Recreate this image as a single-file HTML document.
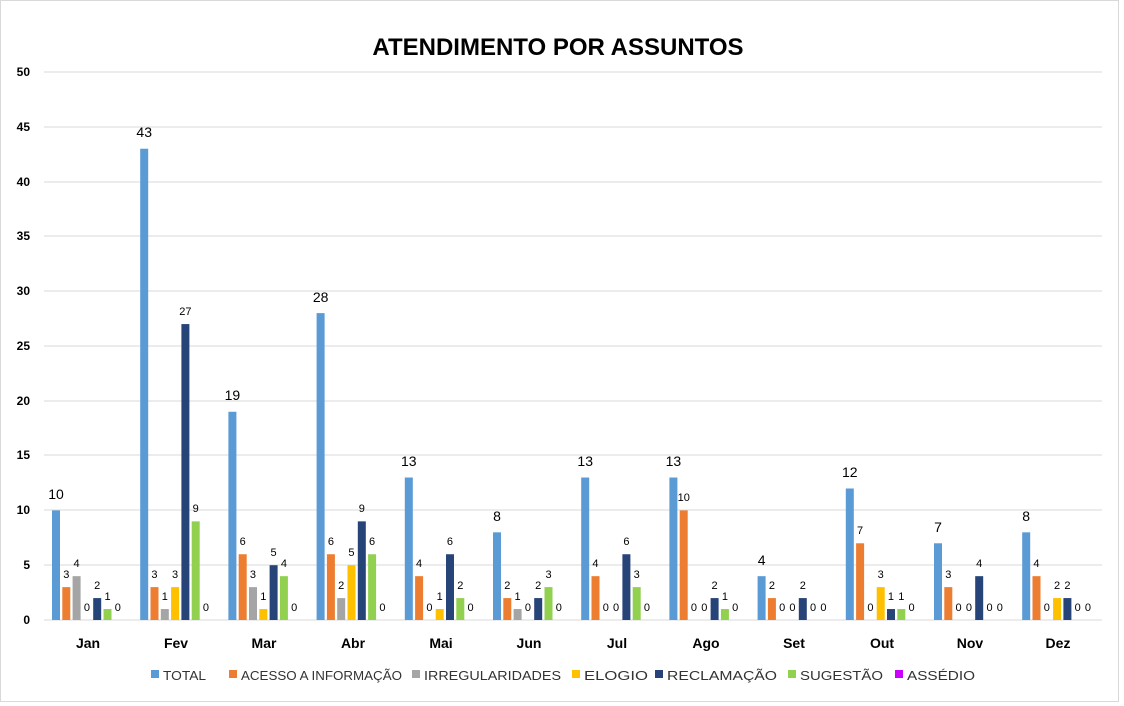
<!DOCTYPE html>
<html><head><meta charset="utf-8"><style>
body{margin:0;background:#fff}
svg{font-family:"Liberation Sans",sans-serif;display:block}
.s0{fill:#5B9BD5}.s1{fill:#ED7D31}.s2{fill:#A5A5A5}.s3{fill:#FFC000}.s4{fill:#264478}.s5{fill:#92D050}.s6{fill:#CC00FF}
.t{font-size:14px;text-anchor:middle;fill:#000}
.l{font-size:11px;text-anchor:middle;fill:#000}
.ax{font-size:12px;font-weight:bold;fill:#000}
.cat{font-size:14px;font-weight:bold;text-anchor:middle}
.lg{font-size:13px;fill:#333}
</style></head><body>
<svg width="1124" height="706" viewBox="0 0 1124 706">
<rect x="0.5" y="0.5" width="1118" height="701" fill="#fff" stroke="#d9d9d9"/>
<text x="558" y="55" font-size="24" font-weight="bold" text-anchor="middle">ATENDIMENTO POR ASSUNTOS</text>
<g stroke="#d9d9d9" stroke-width="1">
<line x1="44" x2="1102" y1="72" y2="72"/><line x1="44" x2="1102" y1="127" y2="127"/><line x1="44" x2="1102" y1="182" y2="182"/><line x1="44" x2="1102" y1="236" y2="236"/><line x1="44" x2="1102" y1="291" y2="291"/><line x1="44" x2="1102" y1="346" y2="346"/><line x1="44" x2="1102" y1="401" y2="401"/><line x1="44" x2="1102" y1="455" y2="455"/><line x1="44" x2="1102" y1="510" y2="510"/><line x1="44" x2="1102" y1="565" y2="565"/><line x1="44" x2="1102" y1="620" y2="620"/>
</g>
<g class="ax" text-anchor="end">
<text x="30" y="76">50</text><text x="30" y="131">45</text><text x="30" y="186">40</text><text x="30" y="240">35</text><text x="30" y="295">30</text><text x="30" y="350">25</text><text x="30" y="405">20</text><text x="30" y="459">15</text><text x="30" y="514">10</text><text x="30" y="569">5</text><text x="30" y="624">0</text>
</g>

<g transform="translate(52,0)">
<rect class="s0" x="0" y="510.4" width="8" height="109.6"/><text class="t" x="4" y="499">10</text>
<rect class="s1" x="10.3" y="587.12" width="8" height="32.88"/><text class="l" x="14.3" y="578">3</text>
<rect class="s2" x="20.6" y="576.16" width="8" height="43.84"/><text class="l" x="24.6" y="567">4</text>
<text class="l" x="34.9" y="611">0</text>
<rect class="s4" x="41.2" y="598.08" width="8" height="21.92"/><text class="l" x="45.2" y="589">2</text>
<rect class="s5" x="51.5" y="609.04" width="8" height="10.96"/><text class="l" x="55.5" y="600">1</text>
<text class="l" x="65.8" y="611">0</text>
</g>
<g transform="translate(140.2,0)">
<rect class="s0" x="0" y="148.72" width="8" height="471.28"/><text class="t" x="4" y="137">43</text>
<rect class="s1" x="10.3" y="587.12" width="8" height="32.88"/><text class="l" x="14.3" y="578">3</text>
<rect class="s2" x="20.6" y="609.04" width="8" height="10.96"/><text class="l" x="24.6" y="600">1</text>
<rect class="s3" x="30.9" y="587.12" width="8" height="32.88"/><text class="l" x="34.9" y="578">3</text>
<rect class="s4" x="41.2" y="324.08" width="8" height="295.92"/><text class="l" x="45.2" y="315">27</text>
<rect class="s5" x="51.5" y="521.36" width="8" height="98.64"/><text class="l" x="55.5" y="512">9</text>
<text class="l" x="65.8" y="611">0</text>
</g>
<g transform="translate(228.4,0)">
<rect class="s0" x="0" y="411.76" width="8" height="208.24"/><text class="t" x="4" y="400">19</text>
<rect class="s1" x="10.3" y="554.24" width="8" height="65.76"/><text class="l" x="14.3" y="545">6</text>
<rect class="s2" x="20.6" y="587.12" width="8" height="32.88"/><text class="l" x="24.6" y="578">3</text>
<rect class="s3" x="30.9" y="609.04" width="8" height="10.96"/><text class="l" x="34.9" y="600">1</text>
<rect class="s4" x="41.2" y="565.2" width="8" height="54.8"/><text class="l" x="45.2" y="556">5</text>
<rect class="s5" x="51.5" y="576.16" width="8" height="43.84"/><text class="l" x="55.5" y="567">4</text>
<text class="l" x="65.8" y="611">0</text>
</g>
<g transform="translate(316.6,0)">
<rect class="s0" x="0" y="313.12" width="8" height="306.88"/><text class="t" x="4" y="302">28</text>
<rect class="s1" x="10.3" y="554.24" width="8" height="65.76"/><text class="l" x="14.3" y="545">6</text>
<rect class="s2" x="20.6" y="598.08" width="8" height="21.92"/><text class="l" x="24.6" y="589">2</text>
<rect class="s3" x="30.9" y="565.2" width="8" height="54.8"/><text class="l" x="34.9" y="556">5</text>
<rect class="s4" x="41.2" y="521.36" width="8" height="98.64"/><text class="l" x="45.2" y="512">9</text>
<rect class="s5" x="51.5" y="554.24" width="8" height="65.76"/><text class="l" x="55.5" y="545">6</text>
<text class="l" x="65.8" y="611">0</text>
</g>
<g transform="translate(404.8,0)">
<rect class="s0" x="0" y="477.52" width="8" height="142.48"/><text class="t" x="4" y="466">13</text>
<rect class="s1" x="10.3" y="576.16" width="8" height="43.84"/><text class="l" x="14.3" y="567">4</text>
<text class="l" x="24.6" y="611">0</text>
<rect class="s3" x="30.9" y="609.04" width="8" height="10.96"/><text class="l" x="34.9" y="600">1</text>
<rect class="s4" x="41.2" y="554.24" width="8" height="65.76"/><text class="l" x="45.2" y="545">6</text>
<rect class="s5" x="51.5" y="598.08" width="8" height="21.92"/><text class="l" x="55.5" y="589">2</text>
<text class="l" x="65.8" y="611">0</text>
</g>
<g transform="translate(493,0)">
<rect class="s0" x="0" y="532.32" width="8" height="87.68"/><text class="t" x="4" y="521">8</text>
<rect class="s1" x="10.3" y="598.08" width="8" height="21.92"/><text class="l" x="14.3" y="589">2</text>
<rect class="s2" x="20.6" y="609.04" width="8" height="10.96"/><text class="l" x="24.6" y="600">1</text>
<text class="l" x="34.9" y="611">0</text>
<rect class="s4" x="41.2" y="598.08" width="8" height="21.92"/><text class="l" x="45.2" y="589">2</text>
<rect class="s5" x="51.5" y="587.12" width="8" height="32.88"/><text class="l" x="55.5" y="578">3</text>
<text class="l" x="65.8" y="611">0</text>
</g>
<g transform="translate(581.2,0)">
<rect class="s0" x="0" y="477.52" width="8" height="142.48"/><text class="t" x="4" y="466">13</text>
<rect class="s1" x="10.3" y="576.16" width="8" height="43.84"/><text class="l" x="14.3" y="567">4</text>
<text class="l" x="24.6" y="611">0</text>
<text class="l" x="34.9" y="611">0</text>
<rect class="s4" x="41.2" y="554.24" width="8" height="65.76"/><text class="l" x="45.2" y="545">6</text>
<rect class="s5" x="51.5" y="587.12" width="8" height="32.88"/><text class="l" x="55.5" y="578">3</text>
<text class="l" x="65.8" y="611">0</text>
</g>
<g transform="translate(669.4,0)">
<rect class="s0" x="0" y="477.52" width="8" height="142.48"/><text class="t" x="4" y="466">13</text>
<rect class="s1" x="10.3" y="510.4" width="8" height="109.6"/><text class="l" x="14.3" y="501">10</text>
<text class="l" x="24.6" y="611">0</text>
<text class="l" x="34.9" y="611">0</text>
<rect class="s4" x="41.2" y="598.08" width="8" height="21.92"/><text class="l" x="45.2" y="589">2</text>
<rect class="s5" x="51.5" y="609.04" width="8" height="10.96"/><text class="l" x="55.5" y="600">1</text>
<text class="l" x="65.8" y="611">0</text>
</g>
<g transform="translate(757.6,0)">
<rect class="s0" x="0" y="576.16" width="8" height="43.84"/><text class="t" x="4" y="565">4</text>
<rect class="s1" x="10.3" y="598.08" width="8" height="21.92"/><text class="l" x="14.3" y="589">2</text>
<text class="l" x="24.6" y="611">0</text>
<text class="l" x="34.9" y="611">0</text>
<rect class="s4" x="41.2" y="598.08" width="8" height="21.92"/><text class="l" x="45.2" y="589">2</text>
<text class="l" x="55.5" y="611">0</text>
<text class="l" x="65.8" y="611">0</text>
</g>
<g transform="translate(845.8,0)">
<rect class="s0" x="0" y="488.48" width="8" height="131.52"/><text class="t" x="4" y="477">12</text>
<rect class="s1" x="10.3" y="543.28" width="8" height="76.72"/><text class="l" x="14.3" y="534">7</text>
<text class="l" x="24.6" y="611">0</text>
<rect class="s3" x="30.9" y="587.12" width="8" height="32.88"/><text class="l" x="34.9" y="578">3</text>
<rect class="s4" x="41.2" y="609.04" width="8" height="10.96"/><text class="l" x="45.2" y="600">1</text>
<rect class="s5" x="51.5" y="609.04" width="8" height="10.96"/><text class="l" x="55.5" y="600">1</text>
<text class="l" x="65.8" y="611">0</text>
</g>
<g transform="translate(934,0)">
<rect class="s0" x="0" y="543.28" width="8" height="76.72"/><text class="t" x="4" y="532">7</text>
<rect class="s1" x="10.3" y="587.12" width="8" height="32.88"/><text class="l" x="14.3" y="578">3</text>
<text class="l" x="24.6" y="611">0</text>
<text class="l" x="34.9" y="611">0</text>
<rect class="s4" x="41.2" y="576.16" width="8" height="43.84"/><text class="l" x="45.2" y="567">4</text>
<text class="l" x="55.5" y="611">0</text>
<text class="l" x="65.8" y="611">0</text>
</g>
<g transform="translate(1022.2,0)">
<rect class="s0" x="0" y="532.32" width="8" height="87.68"/><text class="t" x="4" y="521">8</text>
<rect class="s1" x="10.3" y="576.16" width="8" height="43.84"/><text class="l" x="14.3" y="567">4</text>
<text class="l" x="24.6" y="611">0</text>
<rect class="s3" x="30.9" y="598.08" width="8" height="21.92"/><text class="l" x="34.9" y="589">2</text>
<rect class="s4" x="41.2" y="598.08" width="8" height="21.92"/><text class="l" x="45.2" y="589">2</text>
<text class="l" x="55.5" y="611">0</text>
<text class="l" x="65.8" y="611">0</text>
</g>

<g class="cat">
<text x="88" y="648">Jan</text><text x="176" y="648">Fev</text><text x="264" y="648">Mar</text><text x="353" y="648">Abr</text><text x="441" y="648">Mai</text><text x="529" y="648">Jun</text><text x="617" y="648">Jul</text><text x="706" y="648">Ago</text><text x="794" y="648">Set</text><text x="882" y="648">Out</text><text x="970" y="648">Nov</text><text x="1058" y="648">Dez</text>
</g>
<g class="lg">
<rect class="s0" x="151" y="670" width="8" height="8"/><text x="163" y="680" textLength="43" lengthAdjust="spacingAndGlyphs">TOTAL</text>
<rect class="s1" x="229" y="670" width="8" height="8"/><text x="241" y="680" textLength="161" lengthAdjust="spacingAndGlyphs">ACESSO A INFORMAÇÃO</text>
<rect class="s2" x="412" y="670" width="8" height="8"/><text x="424" y="680" textLength="137" lengthAdjust="spacingAndGlyphs">IRREGULARIDADES</text>
<rect class="s3" x="572" y="670" width="8" height="8"/><text x="584" y="680" textLength="64" lengthAdjust="spacingAndGlyphs">ELOGIO</text>
<rect class="s4" x="655" y="670" width="8" height="8"/><text x="667" y="680" textLength="110" lengthAdjust="spacingAndGlyphs">RECLAMAÇÃO</text>
<rect class="s5" x="788" y="670" width="8" height="8"/><text x="800" y="680" textLength="83" lengthAdjust="spacingAndGlyphs">SUGESTÃO</text>
<rect class="s6" x="895" y="670" width="8" height="8"/><text x="907" y="680" textLength="68" lengthAdjust="spacingAndGlyphs">ASSÉDIO</text>
</g>
</svg>
</body></html>
